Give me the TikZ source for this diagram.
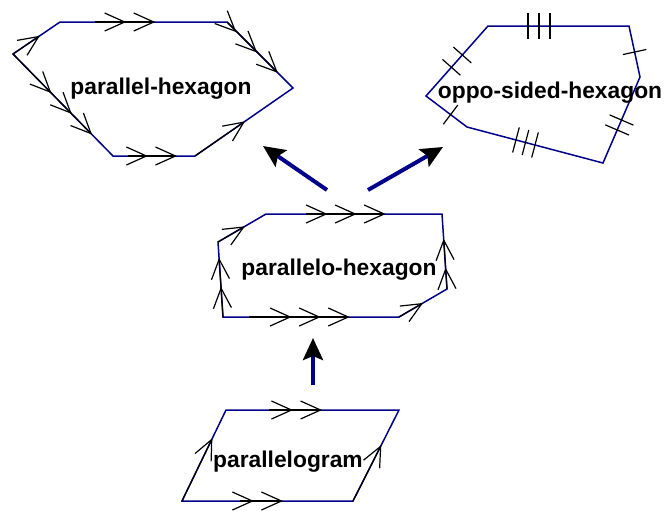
\documentclass[tikz,border=0pt]{standalone}
\usepackage{fontspec}
\setmainfont{Liberation Sans}
\usetikzlibrary{arrows.meta,calc}
\definecolor{edgeblue}{RGB}{0,0,139}

\begin{document}
\begin{tikzpicture}[x=0.5pt,y=-0.5pt,
	side line/.style = {draw=edgeblue, line width=0.75pt},
	shaft/.style = {draw=black, line width=0.6pt},
	one chev/.style = {shaft, -{Straight Barb[length=10pt,width=9pt]}},
	two chev/.style = {shaft, -{Straight Barb[length=10pt,width=9pt,sep=3.5pt]
		Straight Barb[length=10pt,width=9pt]}},
	three chev/.style = {shaft, -{Straight Barb[length=10pt,width=9pt,sep=3.5pt]
		Straight Barb[length=10pt,width=9pt,sep=3.5pt] Straight Barb[length=10pt,width=9pt]}},
	tick/.style = {draw=black, line width=0.6pt},
	shape label/.style = {font=\bfseries\fontsize{11.4}{13}\selectfont, inner sep=0pt, anchor=base},
	big arrow/.style = {draw=edgeblue, line width=2pt, -{Stealth[length=11pt,width=10pt,inset=2pt,color=black]}}]
	
	\useasboundingbox (0,0) rectangle (665,510);
	
	% parallel-hexagon
	\coordinate (a1) at (13,54);
	\coordinate (a2) at (60,22);
	\coordinate (a3) at (227,22);
	\coordinate (a4) at (293,88);
	\coordinate (a5) at (195,156);
	\coordinate (a6) at (113,156);
	\draw[side line] (a1) -- (a2) -- (a3) -- (a4) -- (a5) -- (a6) -- cycle;
	\draw[one chev] (a1) -- ($(a1)!0.57!(a2)$);
	\draw[two chev] ($(a2)!0.21!(a3)$) -- ($(a2)!0.57!(a3)$);
	\draw[three chev] (a3) -- ($(a3)!0.77!(a4)$);
	\draw[two chev] ($(a6)!0.18!(a5)$) -- ($(a6)!0.78!(a5)$);
	\draw[one chev] (a5) -- ($(a5)!0.51!(a4)$);
	\draw[three chev] (a1) -- ($(a1)!0.79!(a6)$);
	\node[shape label] (lab1) at (161,94) {parallel-hexagon};
	
	% oppo-sided-hexagon
	\coordinate (d1) at (488,26);
	\coordinate (d2) at (629,26);
	\coordinate (d3) at (640,77);
	\coordinate (d4) at (603,163);
	\coordinate (d5) at (467,127);
	\coordinate (d6) at (426,96);
	\draw[side line] (d1) -- (d2) -- (d3) -- (d4) -- (d5) -- (d6) -- cycle;
	\foreach \f in {0.284,0.362,0.44}
		\draw[tick] ($(d1)!\f!(d2)!6.5pt!90:(d2)$) -- ($(d1)!\f!(d2)!6.5pt!-90:(d2)$);
	\foreach \f in {0.36,0.43,0.50}
		\draw[tick] ($(d5)!\f!(d4)!6.5pt!90:(d4)$) -- ($(d5)!\f!(d4)!6.5pt!-90:(d4)$);
	\foreach \f in {0.41,0.586}
		\draw[tick] ($(d6)!\f!(d1)!6pt!90:(d1)$) -- ($(d6)!\f!(d1)!6pt!-90:(d1)$);
	\foreach \f in {0.5,0.616}
		\draw[tick] ($(d3)!\f!(d4)!6.5pt!90:(d4)$) -- ($(d3)!\f!(d4)!6.5pt!-90:(d4)$);
	\draw[tick] ($(d6)!0.6!(d5)!6pt!90:(d5)$) -- ($(d6)!0.6!(d5)!6pt!-90:(d5)$);
	\draw[tick] ($(d2)!0.51!(d3)!6pt!90:(d3)$) -- ($(d2)!0.51!(d3)!6pt!-90:(d3)$);
	\node[shape label] (lab2) at (550,98) {oppo-sided-hexagon};
	
	% parallelo-hexagon
	\coordinate (b1) at (218,242);
	\coordinate (b2) at (266,214);
	\coordinate (b3) at (442,214);
	\coordinate (b4) at (447,289);
	\coordinate (b5) at (399,317);
	\coordinate (b6) at (223,317);
	\draw[side line] (b1) -- (b2) -- (b3) -- (b4) -- (b5) -- (b6) -- cycle;
	\draw[one chev] (b1) -- ($(b1)!0.56!(b2)$);
	\draw[three chev] ($(b2)!0.23!(b3)$) -- ($(b2)!0.68!(b3)$);
	\draw[two chev] (b4) -- ($(b4)!0.67!(b3)$);
	\draw[two chev] (b6) -- ($(b6)!0.79!(b1)$);
	\draw[three chev] ($(b6)!0.15!(b5)$) -- ($(b6)!0.72!(b5)$);
	\draw[one chev] (b5) -- ($(b5)!0.5!(b4)$);
	\node[shape label] (lab3) at (339,275) {parallelo-hexagon};
	
	% parallelogram
	\coordinate (c1) at (226,410);
	\coordinate (c2) at (399,410);
	\coordinate (c3) at (353,501);
	\coordinate (c4) at (182,501);
	\draw[side line] (c1) -- (c2) -- (c3) -- (c4) -- cycle;
	\draw[two chev] ($(c1)!0.25!(c2)$) -- ($(c1)!0.555!(c2)$);
	\draw[two chev] ($(c4)!0.34!(c3)$) -- ($(c4)!0.59!(c3)$);
	\draw[one chev] (c4) -- ($(c4)!0.69!(c1)$);
	\draw[one chev] (c3) -- ($(c3)!0.615!(c2)$);
	\node[shape label] (lab4) at (288,467) {parallelogram};
	
	% arrows between the shapes
	\coordinate (t1) at (313,385);
	\coordinate (h1) at (313,338);
	\coordinate (t2) at (327,190);
	\coordinate (h2) at (263,146);
	\coordinate (t3) at (368,190);
	\coordinate (h3) at (443,147);
	\draw[big arrow] (t1) -- (h1);
	\draw[big arrow] (t2) -- (h2);
	\draw[big arrow] (t3) -- (h3);
	
\end{tikzpicture}
\end{document}
